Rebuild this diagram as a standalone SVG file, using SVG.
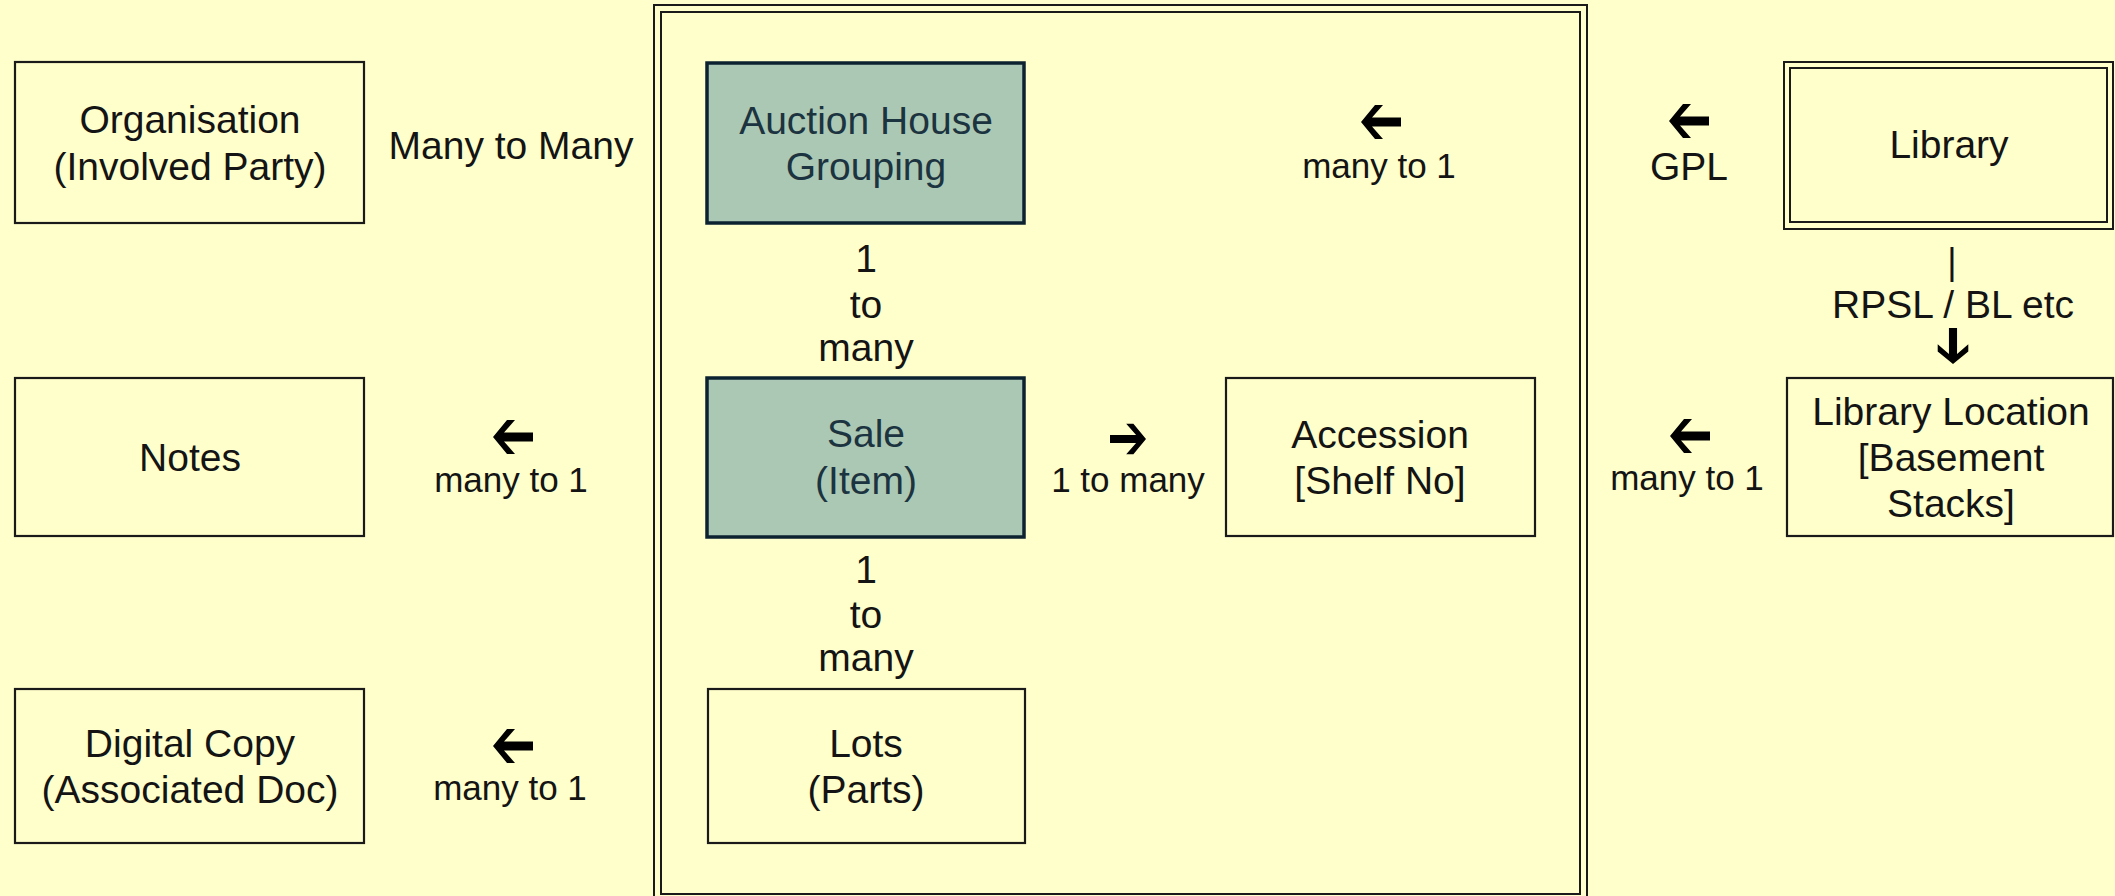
<svg xmlns="http://www.w3.org/2000/svg" width="2115" height="896" viewBox="0 0 2115 896">
<defs>
<style>
text{font-family:"Liberation Sans",Arial,sans-serif;text-anchor:middle;fill:#141414}
.n{font-size:39px}
.s{font-size:35px}
.g text{fill:#1c3340}
.box{fill:none;stroke:#1a1a1a;stroke-width:2.2}
.gbox{fill:#abc8b4;stroke:#0c2230;stroke-width:3.5}
.frame{fill:none;stroke:#1a1a1a;stroke-width:2}
.arr{fill:#000}
</style>
<polygon id="al" points="-20,0 -6,-17 2,-17 -9,-4.5 20,-4.5 20,4.5 -9,4.5 2,17 -6,17"/>
</defs>
<rect x="0" y="0" width="2115" height="896" fill="#ffffcc"/>
<g id="frame">
<rect class="frame" x="654" y="5" width="933" height="905"/>
<rect class="frame" x="661" y="12" width="919" height="882"/>
</g>
<g id="organisation">
<rect class="box" x="15" y="62" width="349" height="161"/>
<text class="n" x="190" y="133">Organisation</text>
<text class="n" x="190" y="180">(Involved Party)</text>
</g>
<g id="notes">
<rect class="box" x="15" y="378" width="349" height="158"/>
<text class="n" x="190" y="471">Notes</text>
</g>
<g id="digital-copy">
<rect class="box" x="15" y="689" width="349" height="154"/>
<text class="n" x="190" y="757">Digital Copy</text>
<text class="n" x="190" y="803">(Associated Doc)</text>
</g>
<g id="auction-house" class="g">
<rect class="gbox" x="707" y="63" width="317" height="160"/>
<text class="n" x="866" y="134">Auction House</text>
<text class="n" x="866" y="180">Grouping</text>
</g>
<g id="sale" class="g">
<rect class="gbox" x="707" y="378" width="317" height="159"/>
<text class="n" x="866" y="447">Sale</text>
<text class="n" x="866" y="494">(Item)</text>
</g>
<g id="lots">
<rect class="box" x="708" y="689" width="317" height="154"/>
<text class="n" x="866" y="757">Lots</text>
<text class="n" x="866" y="803">(Parts)</text>
</g>
<g id="accession">
<rect class="box" x="1226" y="378" width="309" height="158"/>
<text class="n" x="1380" y="448">Accession</text>
<text class="n" x="1380" y="494">[Shelf No]</text>
</g>
<g id="library">
<rect class="frame" x="1784" y="62" width="329" height="167"/>
<rect class="frame" x="1790" y="68" width="317" height="154"/>
<text class="n" x="1949" y="158">Library</text>
</g>
<g id="library-location">
<rect class="box" x="1787" y="378" width="326" height="158"/>
<text class="n" x="1951" y="425">Library Location</text>
<text class="n" x="1951" y="471">[Basement</text>
<text class="n" x="1951" y="517">Stacks]</text>
</g>
<g id="connectors">
<text class="n" x="511" y="159">Many to Many</text>
<use href="#al" class="arr" x="1381" y="122"/>
<text class="s" x="1379" y="178">many to 1</text>
<use href="#al" class="arr" x="1689" y="121"/>
<text class="n" x="1689" y="180">GPL</text>
<text class="n" x="866" y="272">1</text>
<text class="n" x="866" y="318">to</text>
<text class="n" x="866" y="361">many</text>
<text class="n" x="866" y="583">1</text>
<text class="n" x="866" y="628">to</text>
<text class="n" x="866" y="671">many</text>
<use href="#al" class="arr" x="513" y="437"/>
<text class="s" x="511" y="492">many to 1</text>
<use href="#al" class="arr" x="513" y="746"/>
<text class="s" x="510" y="800">many to 1</text>
<use href="#al" class="arr" transform="translate(1128,439) scale(-0.9,0.9)"/>
<text class="s" x="1128" y="492">1 to many</text>
<use href="#al" class="arr" x="1690" y="436"/>
<text class="s" x="1687" y="490">many to 1</text>
<text x="1952" y="274" style="font-size:36px">|</text>
<text class="n" x="1953" y="318">RPSL / BL etc</text>
<use href="#al" class="arr" transform="translate(1953,346) rotate(-90) scale(0.9)"/>
</g>
</svg>
